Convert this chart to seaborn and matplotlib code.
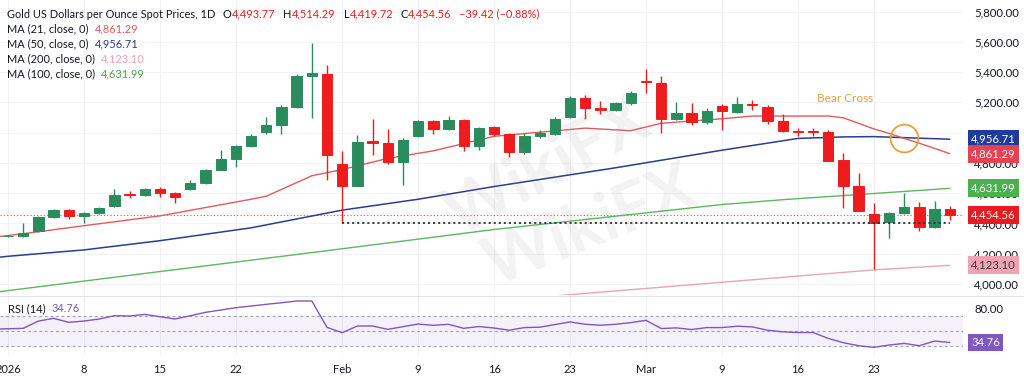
import numpy as np
import pandas as pd
import matplotlib
matplotlib.use("Agg")
import matplotlib.pyplot as plt
import matplotlib.transforms as mtransforms
from matplotlib.lines import Line2D
import seaborn as sns

# ---------------- data ----------------
dates = pd.bdate_range("2026-01-01", "2026-03-30")  # 63 daily bars

opens = [4316, 4317, 4350, 4441, 4489, 4450, 4467, 4518, 4595, 4590, 4625, 4603, 4626, 4668, 4754, 4824,
         4912, 5007, 5051, 5173, 5375, 5390, 4790, 4650, 4947, 4934, 4805, 4978, 5078, 5025, 5084, 4912,
         5036, 4992, 4875, 4978, 4992, 5102, 5232, 5160, 5150, 5194, 5340, 5330, 5091, 5132, 5073, 5179,
         5135, 5188, 5172, 5078, 5010, 5008, 5003, 4820, 4648, 4461, 4408, 4467, 4511, 4375, 4493.77]
highs = [4326, 4403, 4452, 4495, 4495, 4478, 4512, 4628, 4615, 4635, 4640, 4610, 4685, 4762, 4886, 4920,
         4990, 5106, 5180, 5390, 5595, 5450, 4880, 4985, 5090, 5023, 4967, 5085, 5082, 5110, 5092, 5040,
         5045, 4995, 4995, 5020, 5105, 5240, 5250, 5210, 5205, 5275, 5420, 5375, 5205, 5195, 5160, 5190,
         5238, 5216, 5185, 5122, 5030, 5030, 5015, 4865, 4732, 4533, 4475, 4604, 4540, 4549, 4514.29]
lows = [4310, 4313, 4345, 4436, 4428, 4405, 4460, 4512, 4570, 4580, 4578, 4535, 4620, 4660, 4750, 4771,
        4906, 4990, 4990, 5165, 5095, 4690, 4402, 4645, 4853, 4790, 4655, 4970, 4990, 5020, 4879, 4885,
        4980, 4842, 4860, 4965, 4985, 5095, 5091, 5124, 5140, 5180, 5265, 5000, 5085, 5050, 5060, 5018,
        5130, 5150, 5056, 5005, 4975, 4975, 4810, 4505, 4480, 4097, 4306, 4460, 4352, 4370, 4419.72]
closes = [4320, 4335, 4441, 4489, 4450, 4471, 4504, 4588, 4590, 4628, 4600, 4578, 4670, 4754, 4824, 4912,
          4981, 5051, 5173, 5375, 5393, 4850, 4650, 4941, 4935, 4805, 4952, 5078, 5025, 5084, 4912, 5029,
          4990, 4875, 4980, 4996, 5091, 5232, 5162, 5148, 5194, 5265, 5335, 5090, 5132, 5073, 5146, 5140,
          5188, 5180, 5078, 5012, 5005, 5003, 4815, 4648, 4485, 4401, 4467, 4507, 4379, 4493.98, 4454.56]

# moving averages read at selected bars (bar -1 = 2025-12-31)
ma21_bar = [-1, 0, 2, 5, 10, 16, 17, 20, 22, 25, 28, 32, 34, 38, 41, 43, 47, 49, 54, 55, 56, 57, 58, 59, 60, 61, 62]
ma21_val = [4310, 4320, 4345, 4385, 4450, 4560, 4580, 4715, 4756, 4830, 4880, 4976, 4994, 5030, 5013, 5062,
            5092, 5110, 5110, 5098, 5062, 5025, 4995, 4962, 4930, 4896, 4861.29]
ma50_bar = [-1, 0, 5, 10, 16, 22, 27, 32, 40, 47, 52, 55, 57, 62]
ma50_val = [4172, 4183, 4225, 4286, 4371, 4488, 4560, 4644, 4768, 4884, 4962, 4972, 4974, 4956.71]
ma100_bar = [-1, 0, 10, 21, 32, 40, 47, 51, 62]
ma100_val = [3943, 3956, 4082, 4220, 4360, 4448, 4525, 4557, 4631.99]
ma200_bar = [36, 46, 57, 62]
ma200_val = [3921, 4003, 4093, 4123.10]

rsi_bar = list(range(-1, 63))
rsi_val = [52.5, 53.0, 53.6, 63.3, 66.9, 61.6, 63.3, 66.0, 70.4, 70.0, 72.2, 69.1, 66.0, 70.4, 74.9, 78.0,
           81.1, 83.3, 85.6, 87.7, 90.0, 90.0, 54.9, 47.8, 56.7, 56.7, 52.2, 55.8, 59.3, 57.6, 58.9, 53.6,
           56.0, 54.0, 51.1, 54.6, 55.1, 58.6, 62.1, 59.0, 57.7, 59.0, 61.2, 64.3, 53.3, 54.2, 52.0, 54.6,
           54.6, 56.4, 55.5, 51.1, 48.9, 48.0, 48.0, 40.1, 34.4, 30.4, 28.2, 31.3, 33.5, 30.4, 36.6, 34.76]

tick_bars = [0, 5, 10, 15, 22, 27, 32, 37, 42, 47, 52, 57]
tick_labels = ["2026", "8", "15", "22", "Feb", "9", "16", "23", "Mar", "9", "16", "23"]
price_ticks = list(range(4000, 5801, 200))
cross_bar, cross_val = 59, 4966

# ---------------- style ----------------
sns.set_theme(style="white")
plt.rcParams['font.family'] = ['Lato', 'DejaVu Sans']

GREEN = '#2a8c5c'
RED = '#ee1c1c'
TXT = '#131722'
C21, C50, C100, C200 = '#e35a5e', '#2b3d8f', '#5cb860', '#eca3b3'
PURPLE = '#7e57c2'
ORANGE = '#e99f3a'
FS_HEAD = 7.9
FS_AX = 8.2

W, H = 1024, 379
fig = plt.figure(figsize=(W / 100, H / 100), dpi=100)
fig.patch.set_facecolor('white')
renderer = fig.canvas.get_renderer()


def fx(px):
    return px / W


def fy(py):
    return 1 - py / H


ax = fig.add_axes([0, fy(295), fx(963), fy(0) - fy(295)])
axr = fig.add_axes([0, fy(356), fx(963), fy(296) - fy(356)], sharex=ax)

x = np.arange(len(opens))
o, hi, lo, c = map(np.array, (opens, highs, lows, closes))
cols = np.where(c >= o, GREEN, RED)

# grid
for a in (ax, axr):
    for t in tick_bars:
        a.axvline(t, color='#f0f2f7', lw=0.8, zorder=0)
for p in price_ticks:
    ax.axhline(p, color='#f2f4f8', lw=0.8, zorder=0)

# watermark (behind the data)
fig.text(fx(548), fy(168), "WikiFX", fontsize=48, rotation=28, color='#8a8a8a', alpha=0.11,
         ha='center', va='center', fontweight='bold', zorder=0)
fig.text(fx(590), fy(228), "WikiFX", fontsize=48, rotation=22, color='#8a8a8a', alpha=0.10,
         ha='center', va='center', fontweight='bold', zorder=0)

# moving averages
sns.lineplot(x=ma200_bar, y=ma200_val, ax=ax, color=C200, linewidth=1.0, zorder=2)
sns.lineplot(x=ma100_bar, y=ma100_val, ax=ax, color=C100, linewidth=1.0, zorder=2)
sns.lineplot(x=ma50_bar, y=ma50_val, ax=ax, color=C50, linewidth=1.1, zorder=2)
sns.lineplot(x=ma21_bar, y=ma21_val, ax=ax, color=C21, linewidth=1.0, zorder=2)

# candles
ax.vlines(x, lo, hi, colors=cols, lw=1.0, zorder=3)
ax.bar(x, np.abs(c - o), bottom=np.minimum(o, c), width=0.68, color=cols, edgecolor=cols,
       linewidth=0.7, zorder=4)

# price lines
ax.axhline(closes[-1], color=RED, lw=0.8, ls=(0, (1, 2)), zorder=1, alpha=0.8)
ax.hlines(lows[22], 22, len(opens) - 1, colors='#333333', lw=1.3, linestyles=(0, (1.2, 1.6)), zorder=5)

# bear cross
ax.plot([cross_bar], [cross_val], marker='o', ms=20, mfc='none', mec=ORANGE, mew=1.3, zorder=6)
ax.text(55.1, 5223, "Bear Cross", color=ORANGE, fontsize=8.5, ha='center', va='center', zorder=6)

ax.set_xlim(-0.53, 62.87)
ax.set_ylim(3927, 5877)
ax.set_xlabel('')
ax.set_ylabel('')

# right price axis
ax.yaxis.tick_right()
ax.set_yticks(price_ticks)
ax.set_yticklabels([f"{p:,.2f}" for p in price_ticks])
ax.tick_params(axis='y', length=0, pad=8, labelsize=FS_AX, labelcolor=TXT)
ax.tick_params(axis='x', length=0, labelbottom=False)
for s in ax.spines.values():
    s.set_visible(False)

# RSI pane
axr.axhspan(30, 70, color=PURPLE, alpha=0.08, lw=0, zorder=0)
for lvl in (70, 50, 30):
    axr.axhline(lvl, color='#9ea2ab', lw=0.8, ls=(0, (2.5, 2.5)), zorder=1)
sns.lineplot(x=rsi_bar, y=rsi_val, ax=axr, color=PURPLE, linewidth=1.0, zorder=3)
axr.set_ylim(16.7, 96.7)
axr.set_xlim(-0.53, 62.87)
axr.set_xlabel('')
axr.set_ylabel('')
axr.yaxis.tick_right()
axr.set_yticks([80, 40])
axr.set_yticklabels(["80.00", "40.00"])
axr.tick_params(axis='y', length=0, pad=8, labelsize=FS_AX, labelcolor=TXT)
axr.set_xticks(tick_bars)
axr.set_xticklabels(tick_labels)
axr.tick_params(axis='x', length=0, pad=6, labelsize=8, labelcolor=TXT)
for s in axr.spines.values():
    s.set_visible(False)

# pane separator
fig.add_artist(Line2D([0, 1], [fy(295.5), fy(295.5)], color='#e0e3eb', lw=0.8))


# value boxes on the right scale
def vbox(a, val, txt, fc, tc='white', xc=1.0317):
    tr = mtransforms.blended_transform_factory(a.transAxes, a.transData)
    a.text(xc, val, txt, transform=tr, ha='center', va='center', fontsize=FS_AX, color=tc,
           bbox=dict(boxstyle='square,pad=0.3', fc=fc, ec='none'), clip_on=False, zorder=20)


vbox(ax, ma50_val[-1], f"{ma50_val[-1]:,.2f}", '#1f3c9c')
vbox(ax, ma21_val[-1], f"{ma21_val[-1]:,.2f}", '#e5434f')
vbox(ax, ma100_val[-1], f"{ma100_val[-1]:,.2f}", '#4caf50')
vbox(ax, closes[-1], f"{closes[-1]:,.2f}", '#ea1a22')
vbox(ax, ma200_val[-1], f"{ma200_val[-1]:,.2f}", '#f2a3b3', tc='#3a3a3a')
vbox(axr, rsi_val[-1], f"{rsi_val[-1]:.2f}", PURPLE, xc=1.0234)


# header texts laid out one after another
def seq(items, px0, py, fs=FS_HEAD):
    cur = px0
    for s, col, gap in items:
        t = fig.text(fx(cur), fy(py), s, fontsize=fs, color=col, ha='left', va='center')
        bb = t.get_window_extent(renderer)
        cur += bb.width + gap


chg = closes[-1] - closes[-2]
pct = chg / closes[-2] * 100
seq([("Gold US Dollars per Ounce Spot Prices, 1D", TXT, 7), ("O", TXT, 0.5), (f"{opens[-1]:,.2f}", RED, 8),
     ("H", TXT, 0.5), (f"{highs[-1]:,.2f}", RED, 8), ("L", TXT, 0.5), (f"{lows[-1]:,.2f}", RED, 7),
     ("C", TXT, 0.5), (f"{closes[-1]:,.2f}", RED, 7),
     (f"\u2212{abs(chg):.2f} (\u2212{abs(pct):.2f}%)", RED, 0)], 7, 14)

ma_rows = [("MA (21, close, 0)", ma21_val[-1], C21, 29),
           ("MA (50, close, 0)", ma50_val[-1], C50, 44),
           ("MA (200, close, 0)", ma200_val[-1], '#eea4b4', 59),
           ("MA (100, close, 0)", ma100_val[-1], '#45a84a', 74)]
for lab, v, col, py in ma_rows:
    seq([(lab, TXT, 6), (f"{v:,.2f}", col, 0)], 7, py)

seq([("RSI (14)", TXT, 6), (f"{rsi_val[-1]:.2f}", PURPLE, 0)], 8, 309)

fig.savefig("out.png", dpi=100, facecolor='white')
